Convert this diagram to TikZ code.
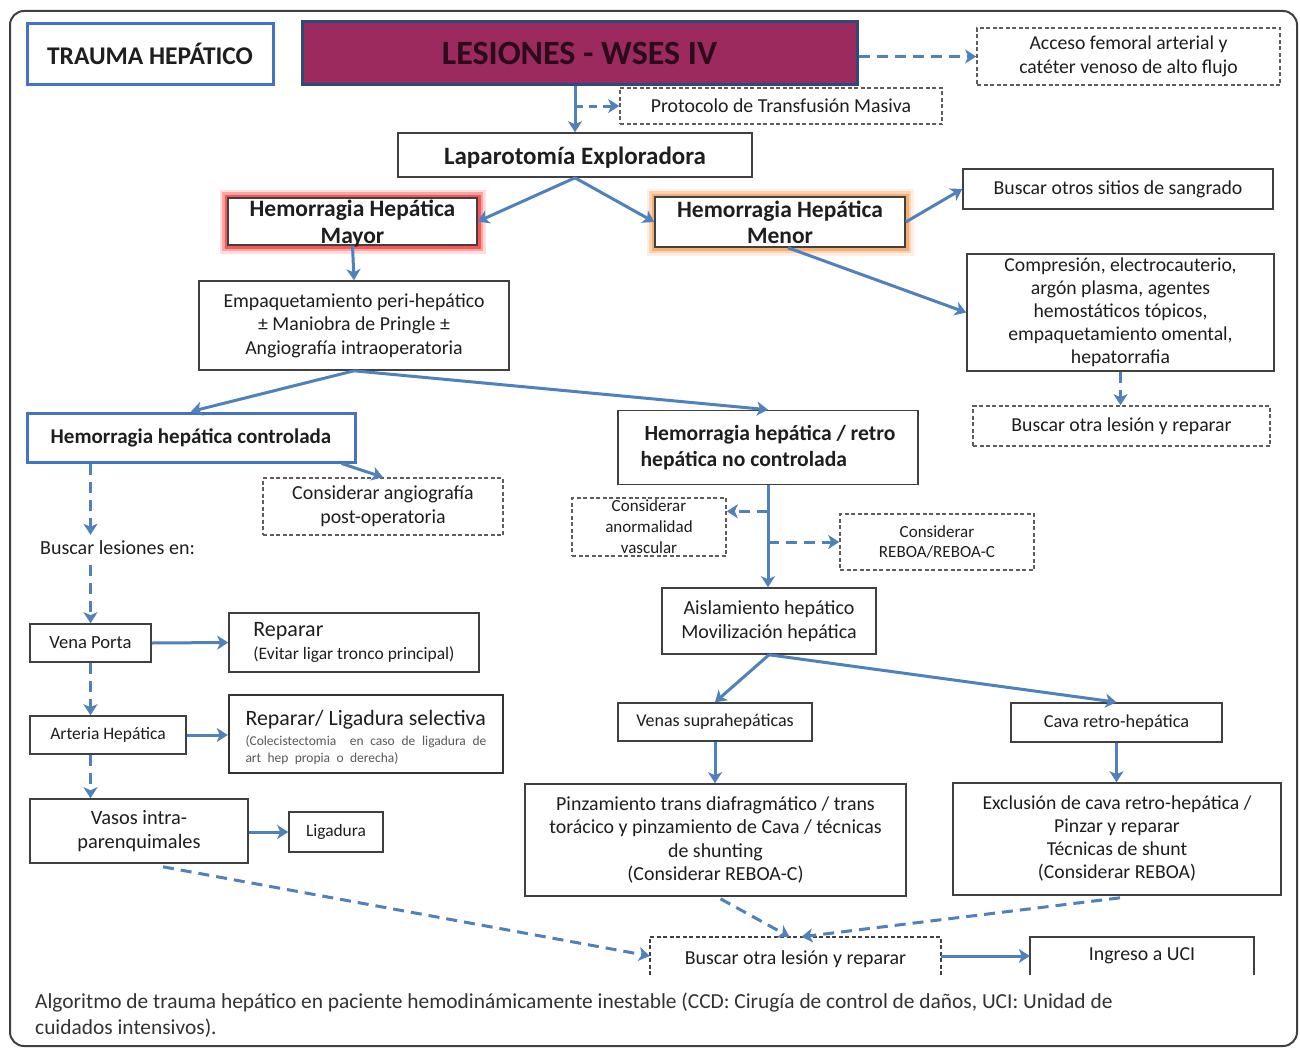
\documentclass[tikz,border=0pt]{standalone}
\usepackage{fontspec}
\setmainfont{Carlito}
\usetikzlibrary{arrows.meta,calc}

\definecolor{flowblue}{HTML}{4F81BD}
\definecolor{edgegray}{HTML}{404040}
\definecolor{wine}{HTML}{9C2A5E}
\definecolor{navyedge}{HTML}{2C4A7E}
\definecolor{headblue}{HTML}{4472C4}
\definecolor{ink}{HTML}{1E1E1E}
\definecolor{winetext}{HTML}{2A0C1A}
\definecolor{glowred}{HTML}{FF2020}
\definecolor{gloworange}{HTML}{F79646}
\newcommand{\fs}[2]{\fontsize{#1}{#2}\selectfont}

\tikzset{
  box/.style={draw=edgegray, line width=1.6pt, fill=white, text=ink, align=center,
              inner sep=0pt, font=\fs{19.8}{23.5}},
  hbox/.style={box, draw=headblue, line width=3pt},
  dbox/.style={box, draw=edgegray!85, dash pattern=on 4pt off 2.5pt},
  openbox/.style={draw=edgegray, line width=1.6pt},
  flow/.style={draw=flowblue, line width=3pt, -{Stealth[length=11pt,width=14pt,inset=3pt]}},
  dflow/.style={flow, dash pattern=on 11pt off 7pt},
  sz/.style 2 args={minimum width=#1pt, minimum height=#2pt},
  glow/.style={preaction={draw=#1, draw opacity=0.15, line width=17pt},
               preaction={draw=#1, draw opacity=0.3, line width=12pt},
               preaction={draw=#1, draw opacity=0.6, line width=7pt}},
}

\begin{document}
\begin{tikzpicture}[x=1pt,y=-1pt]
\fill[white] (0,0) rectangle (1300,1049);
\useasboundingbox (0,0) rectangle (1300,1049);
% outer frame
\draw[edgegray, line width=2pt, rounded corners=14pt] (10,11) rectangle (1297,1046);

% header
\node[hbox, sz={246}{60}, font=\bfseries\fs{25.5}{30}] (trauma) at (150,54) {TRAUMA HEPÁTICO};
\node[box, draw=navyedge, line width=3pt, fill=wine, text=winetext, sz={555}{62},
      font=\bfseries\fs{34}{40}] (lesiones) at (579.5,53) {LESIONES - WSES IV};
\node[dbox, sz={303}{57}, font=\fs{19.7}{24}] (acceso) at (1128.5,56.5)
  {Acceso femoral arterial y\\catéter venoso de alto flujo};
\node[dbox, sz={322}{36}, font=\fs{19.8}{22}] (protocolo) at (781,106) {Protocolo de Transfusión Masiva};
\node[box, sz={354}{44}, font=\bfseries\fs{25}{28}, text height=21pt, text depth=3pt] (lap) at (575,155) {Laparotomía Exploradora};

% major / minor haemorrhage
\node[box, sz={249}{47}, glow=glowred] (mayor) at (352.5,221.5) {};
\node[font=\bfseries\fs{23.5}{27}, align=center, text=ink] (mayortxt) at (352.5,224)
  {Hemorragia Hepática\\Mayor};
\node[box, sz={250}{50}, font=\bfseries\fs{23.5}{26}, glow=gloworange] (menor) at (780,222)
  {Hemorragia Hepática\\Menor};
\node[box, sz={310}{40}] (otros) at (1118,189) {Buscar otros sitios de sangrado};
\node[box, sz={307}{117}, font=\fs{19.7}{23}] (compresion) at (1120.5,312.5)
  {Compresión, electrocauterio,\\argón plasma, agentes\\hemostáticos tópicos,\\empaquetamiento omental,\\hepatorrafia};
\node[dbox, sz={297}{40}] (otra1) at (1121.5,426) {Buscar otra lesión y reparar};
\node[box, sz={310}{89}, font=\fs{19.8}{23.5}] (empaq) at (354,325.5)
  {Empaquetamiento peri-hepático\\± Maniobra de Pringle ±\\Angiografía intraoperatoria};

% controlled branch
\node[hbox, sz={328}{49}, font=\bfseries\fs{21}{24}] (controlada) at (191,437.5)
  {Hemorragia hepática controlada};
\node[dbox, sz={240}{57}, font=\fs{19.9}{24}] (angio) at (383,506.5)
  {Considerar angiografía\\post-operatoria};
\node[anchor=west, font=\fs{20}{22}, text=ink, inner sep=0pt] (buscarles) at (40,548) {Buscar lesiones en:};
\node[box, sz={121}{38}, font=\fs{18.6}{20}] (porta) at (90.5,643) {Vena Porta};
\node[box, sz={250}{59}, align=left] (reparar) at (354,642.5)
  {{\fs{22}{24}Reparar}\\{\fs{17.5}{20}(Evitar ligar tronco principal)}};
\node[box, sz={156}{38}, font=\fs{17.5}{20}] (arteria) at (108,735) {Arteria Hepática};
\node[box, draw=edgegray!80!black, line width=2.4pt, sz={274}{78}, align=left,
      font=\fs{13.5}{17}] (ligsel) at (366,734)
  {{\fs{21.9}{24}\rule{0pt}{22pt}Reparar/ Ligadura selectiva}\\[3pt]
   {\color{black!65}\makebox[241pt][s]{(Colecistectomia\ \ en caso de ligadura de}}\\
   {\color{black!65}\makebox[153pt][s]{art hep propia o derecha)}}};
\node[box, sz={218}{64}, font=\fs{20.4}{24}] (vasos) at (139,831) {Vasos intra-\\parenquimales};
\node[box, sz={94}{40}, font=\fs{17.4}{20}] (ligadura) at (336,832) {Ligadura};

% uncontrolled branch
\node[box, sz={300}{74}, align=left, font=\bfseries\fs{21.6}{26}] (nocontrol) at (768,447.5)
  {\hspace{4pt}Hemorragia hepática / retro\\hepática no controlada};
\node[dbox, sz={154}{58}, font=\fs{17}{21}] (anormal) at (649,527) {Considerar\\anormalidad\\vascular};
\node[dbox, sz={194}{56}, font=\fs{17}{20}] (reboa) at (937,542) {Considerar\\REBOA/REBOA-C};
\node[box, sz={214}{66}, font=\fs{20}{24}] (aisla) at (769,621) {Aislamiento hepático\\Movilización hepática};
\node[box, sz={194}{38}, font=\fs{18}{20}] (venas) at (715,722) {Venas suprahepáticas};
\node[box, sz={211}{39}, font=\fs{18.3}{20}] (cava) at (1116.5,722.5) {Cava retro-hepática};
\node[box, sz={381}{112}, font=\fs{19.9}{23.5}] (pinza) at (715.5,840)
  {Pinzamiento trans diafragmático / trans\\torácico y pinzamiento de Cava / técnicas\\de shunting\\(Considerar REBOA-C)};
\node[box, sz={328}{112}, font=\fs{19.7}{23}] (exclu) at (1117,839)
  {Exclusión de cava retro-hepática /\\Pinzar y reparar\\Técnicas de shunt\\(Considerar REBOA)};

% final steps (boxes open at the bottom)
\node[sz={291}{38}, font=\fs{19.9}{22}, text=ink, inner sep=0pt, text height=18pt, text depth=1pt] (otra2) at (795.5,956) {Buscar otra lesión y reparar};
\node[sz={224}{38}, font=\fs{19.8}{22}, text=ink, inner sep=0pt] (uci) at (1142,956) {Ingreso a UCI};
\draw[openbox, dash pattern=on 4pt off 2.5pt] (otra2.south west) -- (otra2.north west) -- (otra2.north east) -- (otra2.south east);
\draw[openbox] (uci.south west) -- (uci.north west) -- (uci.north east) -- (uci.south east);

% caption
\node[anchor=base west, align=left, inner sep=0pt, font=\fs{21.4}{25.5}, text=black!80] (caption) at (35,1034)
  {Algoritmo de trauma hepático en paciente hemodinámicamente inestable (CCD: Cirugía de control de daños, UCI: Unidad de\\cuidados intensivos).};

% connectors
\coordinate (b1) at ($(nocontrol.south)+(0,26)$);
\coordinate (b2) at (nocontrol.south |- reboa.west);

\draw[dflow] (lesiones.east |- acceso.west) -- (acceso.west);
\draw[flow] (lap.north |- lesiones.south) -- (lap.north);
\draw[dflow, dash pattern=on 8pt off 6pt] (lap.north |- protocolo.west) -- (protocolo.west);
\draw[flow] (lap.south) -- (mayor.east);
\draw[flow] (lap.south) -- (menor.west);
\draw[flow] (menor.east) -- (otros.west);
\draw[flow] ($(menor.south)+(8,0)$) -- (compresion.west);
\draw[dflow] (compresion.south) -- (compresion.south |- otra1.north);
\draw[flow] (mayor.south) -- (empaq.north);
\draw[flow] (empaq.south) -- (controlada.north);
\draw[flow] (empaq.south) -- (nocontrol.north);
\draw[flow] ($(controlada.south east)+(-15,0)$) -- (angio.north);
\draw[dflow] (porta.north |- controlada.south) -- ($(porta.north |- buscarles.north)+(0,-6)$);
\draw[dflow] ($(porta.north |- buscarles.south)+(0,10)$) -- (porta.north);
\draw[flow] (porta.east) -- (reparar.west);
\draw[dflow] (porta.south) -- (porta.south |- arteria.north);
\draw[flow] (arteria.east) -- (ligsel.west |- arteria.east);
\draw[dflow] (porta.south |- arteria.south) -- (porta.south |- vasos.north);
\draw[flow] (vasos.east |- ligadura.west) -- (ligadura.west);
\draw[dflow] ($(vasos.south)+(24,3)$) -- (otra2.west);
\draw[flow] (nocontrol.south) -- (nocontrol.south |- aisla.north);
\draw[dflow] (b1) -- (anormal.east |- b1);
\draw[dflow] (b2) -- (reboa.west);
\draw[flow] (aisla.south) -- (venas.north);
\draw[flow] (aisla.south) -- (cava.north);
\draw[flow] (venas.south) -- (venas.south |- pinza.north);
\draw[flow] (cava.south) -- (cava.south |- exclu.north);
\draw[dflow] ($(pinza.south)+(5,2)$) -- ($(otra2.north)+(-6,0)$);
\draw[dflow] ($(exclu.south)+(3,2)$) -- ($(otra2.north)+(6,0)$);
\draw[flow] (otra2.east) -- (uci.west);
\end{tikzpicture}
\end{document}
